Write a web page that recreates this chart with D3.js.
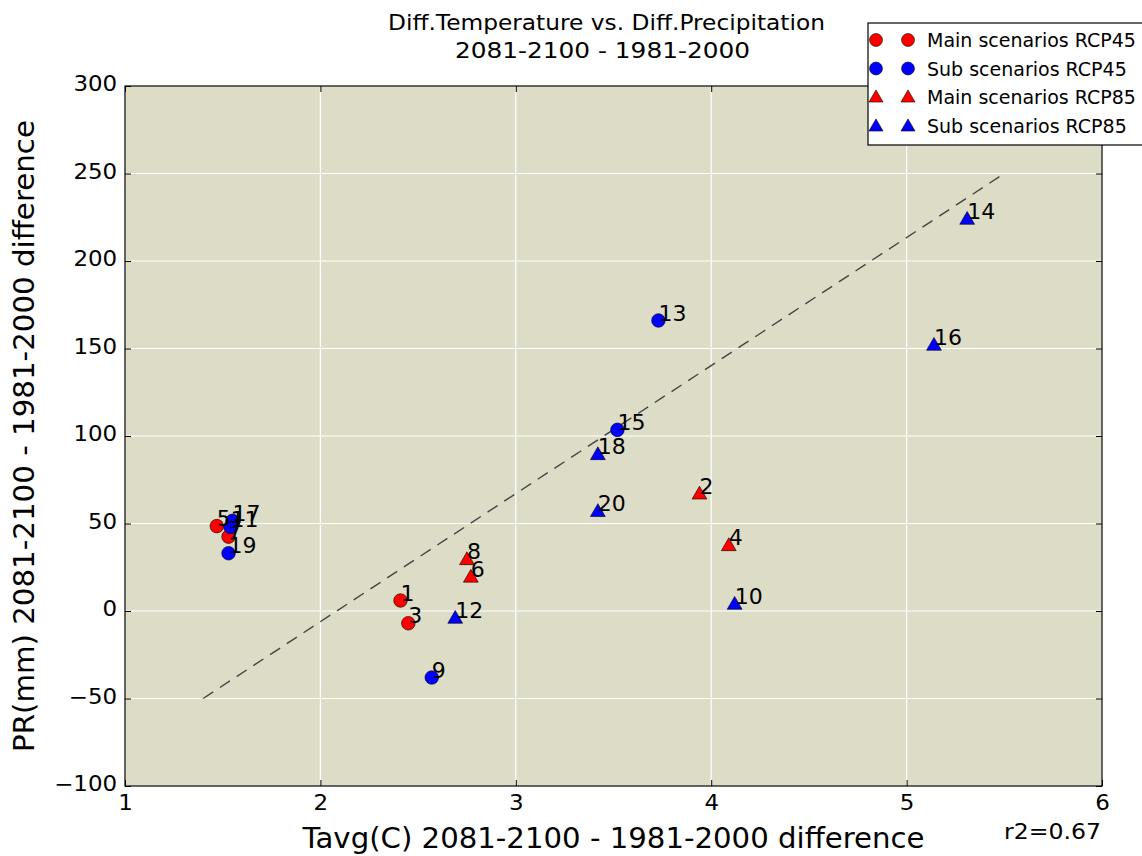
<!DOCTYPE html>
<html><head><meta charset="utf-8">
<script src="https://cdn.jsdelivr.net/npm/d3@7"></script>
<style>
body{margin:0;background:#fff}
text{font-family:"DejaVu Sans",sans-serif;fill:#000}
</style>
</head><body>
<svg id="chart" width="1142" height="856"></svg>
<script>
// ---------- data ----------
const titleLines = ["Diff.Temperature vs. Diff.Precipitation", "2081-2100 - 1981-2000"];
const xLabel = "Tavg(C) 2081-2100 - 1981-2000 difference";
const yLabel = "PR(mm) 2081-2100 - 1981-2000 difference";
const r2Text = "r2=0.67";
const xTicks = [1, 2, 3, 4, 5, 6];
const yTicks = [-100, -50, 0, 50, 100, 150, 200, 250, 300];
const seriesNames = ["Main scenarios RCP45", "Sub scenarios RCP45", "Main scenarios RCP85", "Sub scenarios RCP85"];

const mainRcp45Ids = [1, 3, 5, 7];
const mainRcp45X   = [2.41, 2.45, 1.47, 1.53];
const mainRcp45Y   = [6, -7, 48.5, 42.5];

const subRcp45Ids  = [9, 11, 13, 15, 17, 19];
const subRcp45X    = [2.57, 1.54, 3.73, 3.52, 1.55, 1.53];
const subRcp45Y    = [-38, 48, 166, 103.5, 51.5, 33];

const mainRcp85Ids = [2, 4, 6, 8];
const mainRcp85X   = [3.94, 4.09, 2.77, 2.75];
const mainRcp85Y   = [67, 37.5, 19.5, 29.5];

const subRcp85Ids  = [10, 12, 14, 16, 18, 20];
const subRcp85X    = [4.12, 2.69, 5.31, 5.14, 3.42, 3.42];
const subRcp85Y    = [4, -4, 224, 152, 89.5, 57];

const trendX = [1.4, 5.5];
const trendY = [-50, 250];

// ---------- layout ----------
const svg = d3.select("#chart");
const L = 125, R = 1102, T = 86, B = 786;
const x = d3.scaleLinear().domain([1, 6]).range([L, R]);
const y = d3.scaleLinear().domain([-100, 300]).range([B, T]);
const bg = "#dddcc6";

svg.append("rect").attr("x", L).attr("y", T).attr("width", R - L).attr("height", B - T).attr("fill", bg);

// grid
const grid = svg.append("g");
grid.selectAll("line.gx").data(xTicks).join("line")
  .attr("x1", d => x(d)).attr("x2", d => x(d)).attr("y1", T).attr("y2", B)
  .attr("stroke", "#fff").attr("stroke-width", 1.2);
grid.selectAll("line.gy").data(yTicks).join("line")
  .attr("class", "gy")
  .attr("y1", d => y(d)).attr("y2", d => y(d)).attr("x1", L).attr("x2", R)
  .attr("stroke", "#fff").attr("stroke-width", 1.2);

// trend line
svg.append("path")
  .attr("d", d3.line()(trendX.map((v, i) => [x(v), y(trendY[i])])))
  .attr("fill", "none").attr("stroke", "#444").attr("stroke-width", 1.4)
  .attr("stroke-dasharray", "12,8");

// markers
const triangle = d3.symbol().type(d3.symbolTriangle).size(95);
const groups = [
  {ids: mainRcp45Ids, xs: mainRcp45X, ys: mainRcp45Y, color: "#ff0000", shape: "circle"},
  {ids: subRcp45Ids,  xs: subRcp45X,  ys: subRcp45Y,  color: "#0000ff", shape: "circle"},
  {ids: mainRcp85Ids, xs: mainRcp85X, ys: mainRcp85Y, color: "#ff0000", shape: "triangle"},
  {ids: subRcp85Ids,  xs: subRcp85X,  ys: subRcp85Y,  color: "#0000ff", shape: "triangle"}
];
function drawMarker(g, shape, color, cx, cy, k) {
  if (shape === "circle") {
    g.append("circle").attr("cx", cx).attr("cy", cy).attr("r", 6.8 * k)
      .attr("fill", color).attr("stroke", "#000").attr("stroke-width", 0.6);
  } else {
    g.append("path").attr("d", triangle).attr("transform", `translate(${cx},${cy + 1}) scale(${k})`)
      .attr("fill", color).attr("stroke", "#000").attr("stroke-width", 0.6);
  }
}
const marks = svg.append("g");
groups.forEach(gr => {
  gr.xs.forEach((v, i) => drawMarker(marks, gr.shape, gr.color, x(v), y(gr.ys[i]), 1));
});
const labels = svg.append("g");
groups.forEach(gr => {
  gr.xs.forEach((v, i) => {
    labels.append("text").attr("x", x(v)).attr("y", y(gr.ys[i]))
      .attr("font-size", 22).text(gr.ids[i]);
  });
});

// frame
svg.append("rect").attr("x", L).attr("y", T).attr("width", R - L).attr("height", B - T)
  .attr("fill", "none").attr("stroke", "#000").attr("stroke-width", 1.2);

// ticks (inward, four sides)
function tickAxis(axis, tx, ty) {
  const g = svg.append("g").attr("transform", `translate(${tx},${ty})`).call(axis);
  g.select(".domain").remove();
  g.selectAll(".tick line").attr("stroke", "#000").attr("stroke-width", 1);
  return g;
}
tickAxis(d3.axisTop(x).tickValues(xTicks).tickSize(-6).tickFormat(""), 0, T);
tickAxis(d3.axisRight(y).tickValues(yTicks).tickSize(-6).tickFormat(""), R, 0);
const xa = tickAxis(d3.axisBottom(x).tickValues(xTicks).tickSize(-6).tickPadding(9).tickFormat(d3.format("d")), 0, B);
xa.selectAll(".tick text").attr("font-size", 20.5).attr("font-family", "DejaVu Sans").attr("fill", "#000")
  .attr("transform", "scale(1.12,1)");
const ya = tickAxis(d3.axisLeft(y).tickValues(yTicks).tickSize(-6).tickPadding(7).tickFormat(d3.format("d")), L, 0);
ya.selectAll(".tick text").attr("font-size", 20.5).attr("font-family", "DejaVu Sans").attr("fill", "#000")
  .attr("dy", "0.24em").attr("transform", "scale(1.12,1)");

// titles
svg.append("text").attr("x", 606.5).attr("y", 30).attr("text-anchor", "middle")
  .attr("font-size", 20.5).attr("textLength", 437).attr("lengthAdjust", "spacingAndGlyphs").text(titleLines[0]);
svg.append("text").attr("x", 602.5).attr("y", 58).attr("text-anchor", "middle")
  .attr("font-size", 20.5).attr("textLength", 295).attr("lengthAdjust", "spacingAndGlyphs").text(titleLines[1]);

svg.append("text").attr("x", (L + R) / 2).attr("y", 848).attr("text-anchor", "middle")
  .attr("font-size", 28).attr("textLength", 622).attr("lengthAdjust", "spacingAndGlyphs").text(xLabel);
svg.append("text").attr("transform", `translate(34,${(T + B) / 2}) rotate(-90)`).attr("text-anchor", "middle")
  .attr("font-size", 28.5).attr("textLength", 632).attr("lengthAdjust", "spacingAndGlyphs").text(yLabel);

svg.append("text").attr("x", 1101).attr("y", 839).attr("text-anchor", "end")
  .attr("font-size", 21).attr("textLength", 97).attr("lengthAdjust", "spacingAndGlyphs").text(r2Text);

// legend
const lg = svg.append("g");
lg.append("rect").attr("x", 868).attr("y", 23).attr("width", 290).attr("height", 122)
  .attr("fill", "#fff").attr("stroke", "#000").attr("stroke-width", 1.2);
const rowY = [40, 68.5, 97, 126];
seriesNames.forEach((name, i) => {
  const st = groups[i === 1 ? 1 : i === 2 ? 2 : i];
  [876, 908].forEach(mx => drawMarker(lg, st.shape, st.color, mx, rowY[i], 0.95));
  lg.append("text").attr("x", 927).attr("y", rowY[i] + 7).attr("font-size", 19).text(name);
});
</script>
</body></html>
